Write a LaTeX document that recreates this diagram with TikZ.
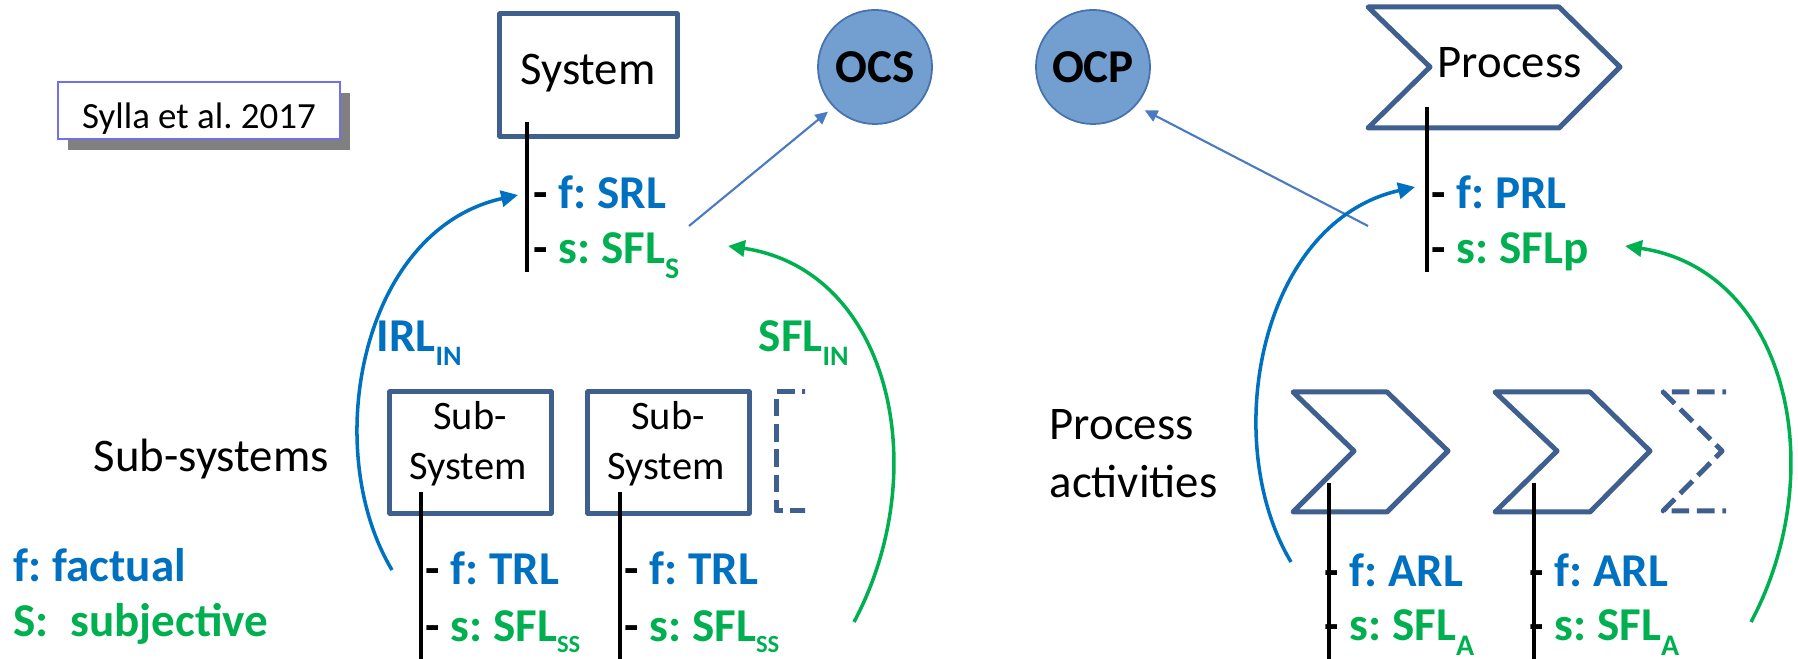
\documentclass[tikz,border=0pt]{standalone}
\usepackage{fontspec}
\setmainfont{Carlito}
\usetikzlibrary{arrows.meta}
\frenchspacing

\definecolor{framecol}{RGB}{63,96,142}
\definecolor{circfill}{RGB}{114,159,207}
\definecolor{circline}{RGB}{70,114,176}
\definecolor{linkcol}{RGB}{74,122,192}
\definecolor{fblue}{RGB}{0,112,192}
\definecolor{sgreen}{RGB}{0,176,80}
\definecolor{notecol}{RGB}{112,112,232}
\definecolor{shadecol}{RGB}{128,128,128}

% subscripts of the level names
\newcommand\lsub[1]{\raisebox{-4.2pt}{\fontsize{8.5}{9}\selectfont #1}}
\newcommand\ssub[1]{\raisebox{-3pt}{\fontsize{7}{8}\selectfont #1}}
\newcommand\bsub[1]{\raisebox{-3.7pt}{\fontsize{8}{9}\selectfont #1}}

\begin{document}
\begin{tikzpicture}[x=0.01cm,y=-0.01cm,
  frameline/.style={draw=framecol,line width=1.42pt,line join=round},
  dashframe/.style={frameline,dash pattern=on 5pt off 2.2pt},
  stem/.style={draw=black,line width=1.1pt},
  txt/.style={inner sep=0pt,font=\fontsize{13.3}{16}\selectfont},
  subtxt/.style={inner sep=0pt,font=\fontsize{11.5}{14}\selectfont,anchor=base},
  lbl/.style={inner sep=0pt,anchor=base west,font=\fontsize{13.4}{16}\selectfont\bfseries},
  orgcircle/.style={circle,fill=circfill,draw=circline,line width=0.5pt,minimum size=1.14cm,inner sep=0pt,font=\fontsize{13.4}{16}\selectfont\bfseries},
  thinarrow/.style={draw=linkcol,line width=0.6pt,-{Triangle[length=3.6pt,width=3.4pt]}},
  bluecurve/.style={draw=fblue,line width=1pt,-{Triangle[length=4.8pt,width=4.6pt]}},
  greencurve/.style={draw=sgreen,line width=1pt,-{Triangle[length=4.8pt,width=4.6pt]}}]
\useasboundingbox (0,0) rectangle (1798,659);

% reference note with its shadow
\fill[shadecol] (68,93) rectangle (350,150);
\node[draw=notecol,fill=white,line width=0.45pt,minimum width=2.82cm,minimum height=0.57cm,inner sep=0pt] (note) at (199,110.5) {};
\node[inner sep=0pt,anchor=base,font=\fontsize{10.5}{12}\selectfont] (notetxt) at (199,129) {Sylla et al. 2017};

% system and process
\node[frameline,minimum width=1.77cm,minimum height=1.22cm,inner sep=0pt] (system) at (588.5,75) {};
\node[txt,anchor=base] (systemtxt) at (588,85) {System};

\draw[frameline] (1368,7) coordinate (pA) -- (1559,7) -- (1620,67) -- (1559,128) -- (1368,128) -- (1430,67) -- cycle;
\node[txt,anchor=base west] (processtxt) at (1437,78) {Process};

% organisational circles
\node[orgcircle] (ocs) at (875,67) {OCS};
\node[orgcircle] (ocp) at (1093,67) {OCP};

% stems and level labels of system and process
\draw[stem] (527,122) coordinate (sysTop) -- (527,272) coordinate (sysBot);
\node[lbl] (srl) at (533,209) {-\ \textcolor{fblue}{f: SRL}};
\node[lbl] (sfls) at (533,264) {-\ \textcolor{sgreen}{s: SFL\lsub{S}}};

\draw[stem] (1427,107) coordinate (procTop) -- (1427,272) coordinate (procBot);
\node[lbl] (prl) at (1431,209) {-\ \textcolor{fblue}{f: PRL}};
\node[lbl] (sflp) at (1431,264) {-\ \textcolor{sgreen}{s: SFLp}};

% links to the circles
\coordinate (ocsStart) at (689,226);
\coordinate (ocpStart) at (1368,226);
\draw[thinarrow,shorten >=2pt] (ocsStart) -- (ocs.-136);
\draw[thinarrow,shorten >=2.8pt] (ocpStart) -- (ocp.-42);

% sub-systems
\node[txt,anchor=base west] (subsys) at (93,472) {Sub-systems};
\node[frameline,minimum width=1.61cm,minimum height=1.21cm,inner sep=0pt] (ss1) at (470.5,452.5) {};
\node[frameline,minimum width=1.61cm,minimum height=1.21cm,inner sep=0pt] (ss2) at (668.5,452.5) {};
\node[subtxt] (ss1a) at (470,430) {Sub-};
\node[subtxt] (ss1b) at (468,480) {System};
\node[subtxt] (ss2a) at (668,430) {Sub-};
\node[subtxt] (ss2b) at (666,480) {System};
\begin{scope}
  \clip (760,380) rectangle (805,530);
  \draw[dashframe] (820,392) -- (776,392) -- (776,511) -- (820,511);
\end{scope}

\draw[stem] (421,492) -- (421,659);
\draw[stem] (620,492) -- (620,659);
\node[lbl] (trl1) at (425,585) {-\ \textcolor{fblue}{f: TRL}};
\node[lbl] (sfl1) at (425,642) {-\ \textcolor{sgreen}{s: SFL\ssub{SS}}};
\node[lbl] (trl2) at (624,585) {-\ \textcolor{fblue}{f: TRL}};
\node[lbl] (sfl2) at (624,642) {-\ \textcolor{sgreen}{s: SFL\ssub{SS}}};

% process activities
\node[txt,anchor=base west] (pa1) at (1049,440) {Process};
\node[txt,anchor=base west] (pa2) at (1049,498) {activities};
\draw[frameline] (1293,392) -- (1387,392) -- (1448,451) -- (1387,512) -- (1293,512) -- (1354,451) -- cycle;
\draw[frameline] (1495,392) -- (1590,392) -- (1650,451) -- (1590,512) -- (1495,512) -- (1557,451) -- cycle;
\begin{scope}
  \clip (1640,380) rectangle (1726,530);
  \draw[dashframe] (1740,392) -- (1663,392) -- (1722,451) -- (1663,511) -- (1740,511);
\end{scope}

\draw[stem] (1329,483) -- (1329,659);
\draw[stem] (1534,483) -- (1534,659);
\node[lbl] (arl1) at (1324,587) {-\ \textcolor{fblue}{f: ARL}};
\node[lbl] (sfla1) at (1324,641) {-\ \textcolor{sgreen}{s: SFL\lsub{A}}};
\node[lbl] (arl2) at (1529,587) {-\ \textcolor{fblue}{f: ARL}};
\node[lbl] (sfla2) at (1529,641) {-\ \textcolor{sgreen}{s: SFL\lsub{A}}};

% aggregation arrows
\coordinate (irlFrom) at (392,570);
\coordinate (irlTo) at (518,195);
\coordinate (sflFrom) at (854,622);
\coordinate (sflTo) at (728,246);
\coordinate (prlFrom) at (1291,562);
\coordinate (prlTo) at (1415,187);
\coordinate (sflpFrom) at (1751,622);
\coordinate (sflpTo) at (1625,246);
\draw[bluecurve] (irlFrom) .. controls (320,450) and (360,230) .. (irlTo);
\draw[greencurve] (sflFrom) .. controls (935,470) and (890,270) .. (sflTo);
\draw[bluecurve] (prlFrom) .. controls (1219,442) and (1259,222) .. (prlTo);
\draw[greencurve] (sflpFrom) .. controls (1832,470) and (1787,270) .. (sflpTo);

\node[lbl,text=fblue] (irlin) at (376,352) {IRL\bsub{IN}};
\node[lbl,text=sgreen] (sflin) at (758,352) {SFL\bsub{IN}};

% legend
\node[lbl,text=fblue] (legf) at (13,582) {f: factual};
\node[lbl,text=sgreen] (legs) at (13,637) {S:~~subjective};
\end{tikzpicture}
\end{document}
